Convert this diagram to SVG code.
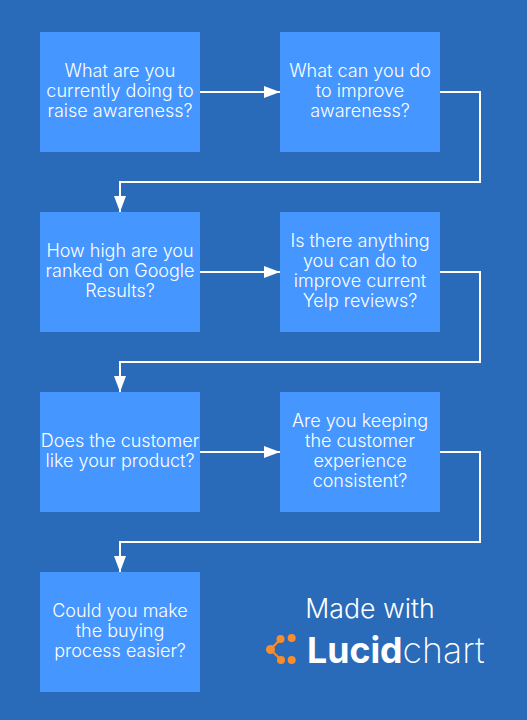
<svg xmlns="http://www.w3.org/2000/svg" width="527" height="720" viewBox="0 0 527 720">
<style>
.n{fill:#4596ff}
.t{font-family:"Inter","Liberation Sans",sans-serif;font-size:18px;font-weight:300;fill:#fff;text-anchor:middle}
.c{fill:none;stroke:#fff;stroke-width:2}
.l{font-family:"Inter","Liberation Sans",sans-serif;fill:#fff}
</style>
<defs>
<marker id="a" markerUnits="userSpaceOnUse" markerWidth="16" markerHeight="12" refX="16" refY="6" orient="auto"><path d="M0 0L16 6L0 12Z" fill="#fff"/></marker>
</defs>
<rect width="527" height="720" fill="#296bb8"/>
<g id="connectors">
<path class="c" marker-end="url(#a)" d="M200 92H280"/>
<path class="c" marker-end="url(#a)" d="M440 92H480V182H120V212"/>
<path class="c" marker-end="url(#a)" d="M200 272H280"/>
<path class="c" marker-end="url(#a)" d="M440 272H480V362H120V392"/>
<path class="c" marker-end="url(#a)" d="M200 452H280"/>
<path class="c" marker-end="url(#a)" d="M440 452H480V542H120V572"/>
</g>
<g id="n1"><rect class="n" x="40" y="32" width="160" height="120"/><text class="t" x="120" y="77">What are you</text><text class="t" x="120" y="97">currently doing to</text><text class="t" x="120" y="117">raise awareness?</text></g>
<g id="n2"><rect class="n" x="280" y="32" width="160" height="120"/><text class="t" x="360" y="77">What can you do</text><text class="t" x="360" y="97">to improve</text><text class="t" x="360" y="117">awareness?</text></g>
<g id="n3"><rect class="n" x="40" y="212" width="160" height="120"/><text class="t" x="120" y="257">How high are you</text><text class="t" x="120" y="277">ranked on Google</text><text class="t" x="120" y="297">Results?</text></g>
<g id="n4"><rect class="n" x="280" y="212" width="160" height="120"/><text class="t" x="360" y="247">Is there anything</text><text class="t" x="360" y="267">you can do to</text><text class="t" x="360" y="287">improve current</text><text class="t" x="360" y="307">Yelp reviews?</text></g>
<g id="n5"><rect class="n" x="40" y="392" width="160" height="120"/><text class="t" x="120" y="447">Does the customer</text><text class="t" x="120" y="467">like your product?</text></g>
<g id="n6"><rect class="n" x="280" y="392" width="160" height="120"/><text class="t" x="360" y="427">Are you keeping</text><text class="t" x="360" y="447">the customer</text><text class="t" x="360" y="467">experience</text><text class="t" x="360" y="487">consistent?</text></g>
<g id="n7"><rect class="n" x="40" y="572" width="160" height="120"/><text class="t" x="120" y="617">Could you make</text><text class="t" x="120" y="637">the buying</text><text class="t" x="120" y="657">process easier?</text></g>
<g id="logo">
<text class="l" x="370" y="618" font-size="26.7" font-weight="300" text-anchor="middle">Made with</text>
<text class="l" x="307" y="663" font-size="35.7" font-weight="700">Lucid<tspan font-weight="200">chart</tspan></text>
<g fill="#f68d2e"><circle cx="270.5" cy="649.5" r="4.5"/><circle cx="280.5" cy="639" r="4"/><circle cx="281" cy="660" r="4"/><circle cx="291.7" cy="638" r="4"/><circle cx="291.7" cy="660" r="4"/></g>
<path d="M280.5 639L270.5 649.5L281 660" fill="none" stroke="#f68d2e" stroke-width="2"/>
</g>
</svg>
